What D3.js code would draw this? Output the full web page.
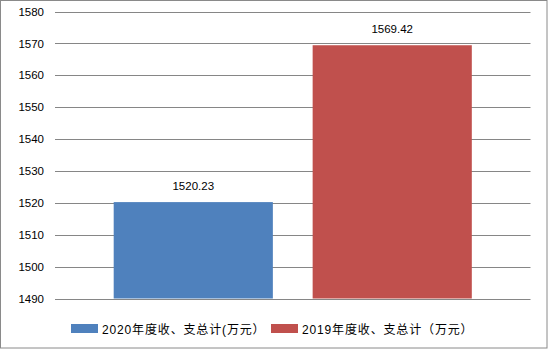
<!DOCTYPE html>
<html><head><meta charset="utf-8">
<script src="https://cdn.jsdelivr.net/npm/d3@7"></script>
<style>
body{margin:0;background:#fff;}
svg{display:block;font-family:"Liberation Sans","Noto Sans CJK SC",sans-serif;}
</style></head>
<body><svg id="c" width="548" height="350"></svg>
<script>
const series = ["2020年度收、支总计(万元）", "2019年度收、支总计（万元）"];
const values = [1520.23, 1569.42];
const colors = ["#4F81BD", "#C0504D"];
const yTicks = [1490, 1500, 1510, 1520, 1530, 1540, 1550, 1560, 1570, 1580];

(function () {
const svg = d3.select("#c");
svg.append("rect").attr("x", 0.5).attr("y", 0.5).attr("width", 546.5).attr("height", 347.5)
  .attr("fill", "#fff").attr("stroke", "#8a8a8a").attr("stroke-width", 1);

const pLeft = 55, pRight = 530.5, pTop = 11.5, pBottom = 298.5;
const y = d3.scaleLinear().domain([1490, 1580]).range([pBottom, pTop]);
const x = d3.scaleBand().domain(series).range([pLeft, pRight]).paddingInner(0.2).paddingOuter(0.295);

// gridlines
svg.append("g").selectAll("line").data(yTicks).join("line")
  .attr("x1", pLeft).attr("x2", pRight)
  .attr("y1", d => Math.round(y(d)) + 0.5).attr("y2", d => Math.round(y(d)) + 0.5)
  .attr("stroke", "#868686").attr("stroke-width", 1);

// y axis labels
const yAxis = d3.axisLeft(y).tickValues(yTicks).tickFormat(d3.format("d")).tickSize(0).tickPadding(0);
const ga = svg.append("g").attr("transform", `translate(${pLeft - 11},0)`).call(yAxis);
ga.select(".domain").remove();
ga.selectAll("text").attr("font-size", "11.5px").attr("fill", "#000")
  .attr("font-family", "Liberation Sans, sans-serif");

// bars
svg.append("g").selectAll("rect").data(values).join("rect")
  .attr("x", (d, i) => x(series[i]))
  .attr("width", x.bandwidth())
  .attr("y", d => y(d))
  .attr("height", d => pBottom - y(d))
  .attr("fill", (d, i) => colors[i]);

// data labels
svg.append("g").selectAll("text").data(values).join("text")
  .attr("x", (d, i) => x(series[i]) + x.bandwidth() / 2)
  .attr("y", d => y(d) - 16)
  .attr("dy", "0.35em")
  .attr("text-anchor", "middle")
  .attr("font-size", "11.5px")
  .attr("fill", "#000")
  .text(d => d.toFixed(2));

// legend
const legX = [71, 271];
const lg = svg.append("g").selectAll("g").data(series).join("g")
  .attr("transform", (d, i) => `translate(${legX[i]},324)`);
lg.append("rect").attr("width", 27).attr("height", 9).attr("fill", (d, i) => colors[i]);
lg.append("text").attr("x", 31).attr("y", 9.5)
  .attr("font-size", "12px").attr("letter-spacing", "0.85px").attr("fill", "#000").text(d => d);
})();
</script></body></html>
